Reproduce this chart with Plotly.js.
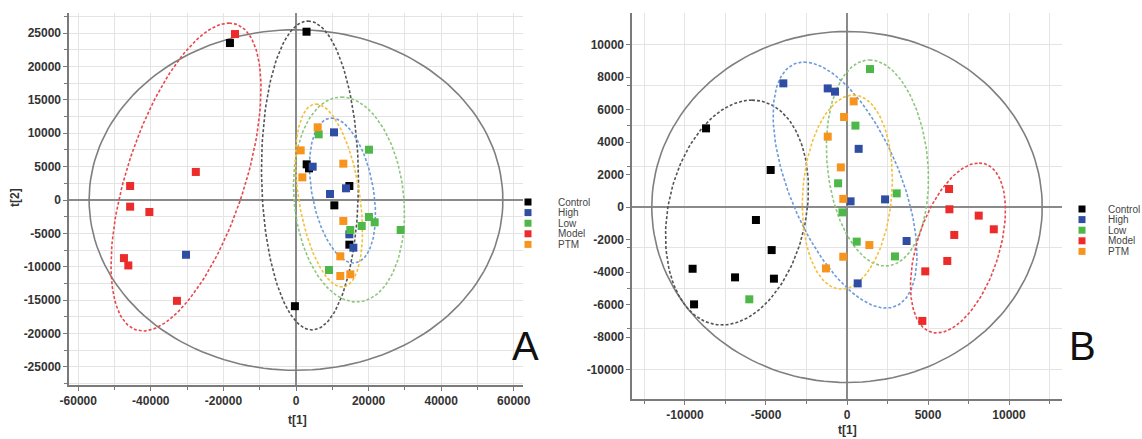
<!DOCTYPE html>
<html><head><meta charset="utf-8">
<script src="https://cdn.plot.ly/plotly-3.0.1.min.js"></script>
<style>html,body{margin:0;padding:0;background:#fff}#chart{width:1142px;height:439px}</style>
</head><body><div id="chart"></div>
<script>
const groups = ["Control", "High", "Low", "Model", "PTM"];
const markerColors = ["#000000", "#2F4EA3", "#4DB748", "#EC2B2B", "#F7941E"];
const ellipseColors = ["#555555", "#6C9BD9", "#8DC77B", "#E8474C", "#F4C03B"];

// Panel A scores (t[1], t[2])
const aControlT1 = [-18200, 2900, 2940, 3580, 14700, 10560, 14700, -300];
const aControlT2 = [23500, 25200, 5340, 4740, 2100, -800, -6690, -15900];
const aHighT1 = [-30300, 10470, 4590, 9370, 13780, 14700, 15800];
const aHighT2 = [-8200, 10130, 4990, 900, 1750, -5140, -7140];
const aLowT1 = [6250, 20100, 20100, 21670, 18100, 14960, 28840, 9090];
const aLowT2 = [9830, 7530, -2540, -3340, -3890, -4490, -4490, -10480];
const aModelT1 = [-16800, -45700, -27600, -45700, -40400, -47400, -46200, -32800];
const aModelT2 = [24850, 2100, 4200, -1000, -1800, -8700, -9800, -15100];
const aPtmT1 = [5970, 1290, 13040, 1750, 13040, 12200, 12200, 14960];
const aPtmT2 = [10880, 7430, 5440, 3390, -3140, -8430, -11380, -11130];

// Panel B scores (t[1], t[2])
const bControlT1 = [-8700, -4710, -5620, -4650, -9530, -6910, -4510, -9440];
const bControlT2 = [4840, 2280, -800, -2650, -3800, -4330, -4410, -5990];
const bHighT1 = [-3930, -1190, -740, 720, 220, 2350, 3680, 660];
const bHighT2 = [7610, 7300, 7100, 3580, 350, 470, -2090, -4700];
const bLowT1 = [1420, 520, -550, -280, 3070, 600, 2960, -6030];
const bLowT2 = [8490, 5010, 1460, -330, 840, -2130, -3040, -5680];
const bModelT1 = [6300, 6320, 8130, 9060, 6620, 6190, 4830, 4650];
const bModelT2 = [1110, -140, -530, -1370, -1720, -3320, -3960, -7010];
const bPtmT1 = [410, -180, -1190, -380, -230, 1380, -230, -1300];
const bPtmT2 = [6500, 5540, 4330, 2440, 500, -2340, -3060, -3780];

// Group confidence ellipses (order as groups): centre, half-extents, x-offset of top point
const aEllCX = [3860, 12810, 14600, -30300, 9090];
const aEllCY = [3670, 1420, 75, 3440, 670];
const aEllRX = [13360, 9090, 15290, 20660, 9230];
const aEllRY = [23130, 10850, 15340, 23050, 13700];
const aEllSkew = [-550, -3030, -2070, 11850, -3580];
const bEllCX = [-6790, -120, 1880, 6850, 20];
const bEllCY = [-340, 1350, 2710, -2520, 920];
const bEllRX = [4410, 4440, 3150, 2930, 2780];
const bEllRY = [6920, 7570, 6340, 5230, 5970];
const bEllSkew = [926, -2530, -490, 1300, 370];

// Hotelling T2 ellipses
const aT2 = [57000, 25500];
const bT2 = [12050, 10800];

// Tick labels
const aXTicks = [-60000, -40000, -20000, 0, 20000, 40000, 60000];
const aYTicks = [-25000, -20000, -15000, -10000, -5000, 0, 5000, 10000, 15000, 20000, 25000];
const bXTicks = [-10000, -5000, 0, 5000, 10000];
const bYTicks = [-10000, -8000, -6000, -4000, -2000, 0, 2000, 4000, 6000, 8000, 10000];

const W = 1142, H = 439;
const aSeries = [[aControlT1, aControlT2], [aHighT1, aHighT2], [aLowT1, aLowT2], [aModelT1, aModelT2], [aPtmT1, aPtmT2]];
const bSeries = [[bControlT1, bControlT2], [bHighT1, bHighT2], [bLowT1, bLowT2], [bModelT1, bModelT2], [bPtmT1, bPtmT2]];

function ellipse(cx, cy, rx, ry, skew) {
  const xs = [], ys = [], n = 160;
  const q = Math.sqrt(Math.max(rx * rx - skew * skew, 0));
  for (let i = 0; i <= n; i++) {
    const t = 2 * Math.PI * i / n;
    xs.push(cx + skew * Math.cos(t) + q * Math.sin(t));
    ys.push(cy + ry * Math.cos(t));
  }
  return [xs, ys];
}

const traces = [];
function addPanel(xa, ya, series, ecx, ecy, erx, ery, esk, t2) {
  const big = ellipse(0, 0, t2[0], t2[1], 0);
  traces.push({x: big[0], y: big[1], xaxis: xa, yaxis: ya, mode: 'lines', line: {color: '#7f7f7f', width: 1.6}, hoverinfo: 'skip'});
  for (let g = 0; g < groups.length; g++) {
    const e = ellipse(ecx[g], ecy[g], erx[g], ery[g], esk[g]);
    traces.push({x: e[0], y: e[1], xaxis: xa, yaxis: ya, mode: 'lines', line: {color: ellipseColors[g], width: 1.6, dash: '3px,2px'}, hoverinfo: 'skip'});
  }
  for (let g = 0; g < groups.length; g++) {
    traces.push({x: series[g][0], y: series[g][1], xaxis: xa, yaxis: ya, name: groups[g], mode: 'markers',
      marker: {symbol: 'square', size: 8, color: markerColors[g], line: {width: 0}}});
  }
}
addPanel('x', 'y', aSeries, aEllCX, aEllCY, aEllRX, aEllRY, aEllSkew, aT2);
addPanel('x2', 'y2', bSeries, bEllCX, bEllCY, bEllRX, bEllRY, bEllSkew, bT2);

const tickFont = {family: 'Liberation Sans, Arial, sans-serif', size: 12, color: '#333'};
const gridC = '#e4e4e4';
function axis(domain, range, vals, minorDtick, majorGrid, anchor) {
  return {
    domain: domain, range: range, anchor: anchor,
    tickmode: 'array', tickvals: vals, ticktext: vals.map(v => '<b>' + String(v) + '</b>'),
    showgrid: majorGrid, gridcolor: gridC, gridwidth: 1,
    zeroline: true, zerolinecolor: '#8a8a8a', zerolinewidth: 1.6,
    showline: true, linecolor: '#7a7a7a', linewidth: 1.6,
    ticks: 'outside', ticklen: 4, tickcolor: '#7a7a7a', tickwidth: 1,
    minor: {tick0: 0, dtick: minorDtick, showgrid: true, gridcolor: gridC, gridwidth: 1, ticks: 'outside', ticklen: 3, tickcolor: '#7a7a7a'},
    tickfont: tickFont, fixedrange: true
  };
}
function px(x) { return x / W; }
function py(y) { return 1 - y / H; }

const layout = {
  width: W, height: H, margin: {l: 0, r: 0, t: 0, b: 0},
  paper_bgcolor: '#fff', plot_bgcolor: '#fff', showlegend: false, hovermode: false,
  xaxis: axis([px(69), px(523)], [-62540, 62540], aXTicks, 10000, true, 'y'),
  yaxis: axis([py(385), py(13)], [-27700, 28000], aYTicks, 2500, true, 'x'),
  xaxis2: axis([px(632), px(1062)], [-13270, 13270], bXTicks, 2500, true, 'y2'),
  yaxis2: axis([py(399), py(13)], [-11815, 11940], bYTicks, 2500, false, 'x2'),
  shapes: [], annotations: []
};

const legA = {x: 528, y0: 202, tx: 556};
const legB = {x: 1082, y0: 209, tx: 1106};
const rowH = 10.6, sq = 7;
[legA, legB].forEach(L => {
  groups.forEach((g, i) => {
    const cy = L.y0 + i * rowH;
    layout.shapes.push({type: 'rect', xref: 'paper', yref: 'paper',
      x0: px(L.x - sq / 2), x1: px(L.x + sq / 2), y0: py(cy + sq / 2), y1: py(cy - sq / 2),
      fillcolor: markerColors[i], line: {width: 0}});
    layout.annotations.push({xref: 'paper', yref: 'paper', x: px(L.tx), y: py(cy), xanchor: 'left', yanchor: 'middle',
      text: g, showarrow: false, font: {family: 'Liberation Sans, Arial, sans-serif', size: 10, color: '#444'}});
  });
});

const titleFont = {family: 'Liberation Sans, Arial, sans-serif', size: 12, color: '#333'};
layout.annotations.push({xref: 'paper', yref: 'paper', x: px(15), y: py(198), text: '<b>t[2]</b>', textangle: -90, showarrow: false, font: titleFont, xanchor: 'center', yanchor: 'middle'});
layout.annotations.push({xref: 'paper', yref: 'paper', x: px(297), y: py(420), text: '<b>t[1]</b>', showarrow: false, font: titleFont, xanchor: 'center', yanchor: 'middle'});
layout.annotations.push({xref: 'paper', yref: 'paper', x: px(847), y: py(430), text: '<b>t[1]</b>', showarrow: false, font: titleFont, xanchor: 'center', yanchor: 'middle'});
const bigFont = {family: 'Liberation Sans, Arial, sans-serif', size: 40, color: '#111'};
layout.annotations.push({xref: 'paper', yref: 'paper', x: px(525), y: py(346), text: 'A', showarrow: false, font: bigFont, xanchor: 'center', yanchor: 'middle'});
layout.annotations.push({xref: 'paper', yref: 'paper', x: px(1082), y: py(346), text: 'B', showarrow: false, font: bigFont, xanchor: 'center', yanchor: 'middle'});

Plotly.newPlot('chart', traces, layout, {staticPlot: true, displayModeBar: false});
</script></body></html>
